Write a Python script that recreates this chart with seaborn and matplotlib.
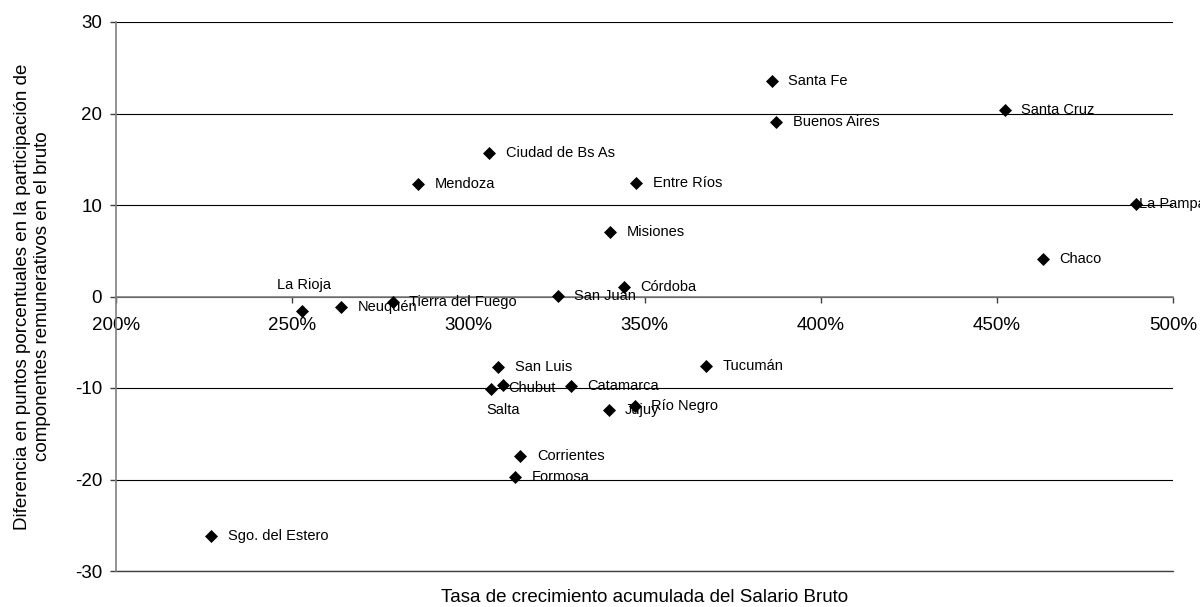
import matplotlib
matplotlib.use("Agg")
import matplotlib.pyplot as plt
import matplotlib.ticker as mticker
import seaborn as sns
import pandas as pd

# ---- data ----
provinces = ["Santa Fe", "Buenos Aires", "Ciudad de Bs As", "Mendoza", "Entre Ríos",
             "Misiones", "Córdoba", "San Juan", "Santa Cruz", "La Pampa", "Chaco",
             "La Rioja", "Neuquén", "Tierra del Fuego", "Sgo. del Estero", "San Luis",
             "Chubut", "Salta", "Catamarca", "Jujuy", "Río Negro", "Tucumán",
             "Corrientes", "Formosa"]
growth_pct = [386.1, 387.3, 306.0, 285.8, 347.7,
              340.3, 344.1, 325.4, 452.2, 489.6, 463.1,
              252.9, 263.8, 278.5, 227.0, 308.5,
              309.8, 306.3, 329.0, 339.8, 347.2, 367.4,
              314.8, 313.3]
diff_pp = [23.5, 19.1, 15.65, 12.25, 12.4,
           7.0, 1.05, 0.05, 20.4, 10.1, 4.05,
           -1.6, -1.1, -0.55, -26.2, -7.75,
           -9.65, -10.15, -9.75, -12.4, -11.95, -7.55,
           -17.4, -19.75]
x_ticks = [200, 250, 300, 350, 400, 450, 500]
y_ticks = [-30, -20, -10, 0, 10, 20, 30]
x_label = "Tasa de crecimiento acumulada del Salario Bruto"
y_label = ("Diferencia en puntos porcentuales en la participación de\n"
           "componentes remunerativos en el bruto")

df = pd.DataFrame({"provincia": provinces, "x": growth_pct, "y": diff_pp})

# ---- style ----
sns.set_style("white")
plt.rcParams["font.family"] = ["Liberation Sans", "DejaVu Sans"]
plt.rcParams["axes.unicode_minus"] = False
for k in ["text.color", "axes.labelcolor", "xtick.labelcolor", "ytick.labelcolor"]:
    plt.rcParams[k] = "black"

fig = plt.figure(figsize=(12, 6.07), dpi=100)
ax = fig.add_axes([116 / 1200, 1 - 571 / 607, (1173 - 116) / 1200, (571 - 22) / 607])

sns.scatterplot(data=df, x="x", y="y", marker="D", color="black", s=44,
                linewidth=0, ax=ax, zorder=3, legend=False)

# label placement (offset points, ha)
special = {
    "La Rioja": ((1, 19), "center"),
    "Chubut": ((4, -2), "left"),
    "Salta": ((9, -15), "center"),
    "La Pampa": ((2, 0), "left"),
}
for name, xv, yv in zip(provinces, growth_pct, diff_pp):
    off, ha = special.get(name, ((12, 0), "left"))
    ax.annotate(name, (xv, yv), xytext=off, textcoords="offset points",
                ha=ha, va="center", fontsize=10.5, color="black", zorder=4,
                annotation_clip=False)

ax.set_xlim(200, 500)
ax.set_ylim(-30, 30)
ax.set_xticks(x_ticks)
ax.set_yticks(y_ticks)
ax.xaxis.set_major_formatter(mticker.FuncFormatter(lambda v, p: f"{v:.0f}%"))

ax.yaxis.grid(True, color="black", linewidth=0.8)
ax.xaxis.grid(False)
ax.set_axisbelow(True)
# bottom gridline at the lower limit (otherwise clipped at the axes edge)
ax.axhline(y_ticks[0], color="#404040", linewidth=1.0, clip_on=False, zorder=0.6)

for s in ["top", "right"]:
    ax.spines[s].set_visible(False)
ax.spines["bottom"].set_position(("data", 0))
ax.spines["bottom"].set_color("#808080")
ax.spines["bottom"].set_linewidth(1.2)
ax.spines["left"].set_color("#808080")
ax.spines["left"].set_linewidth(1.2)

ax.tick_params(axis="x", direction="out", length=4, width=1, color="#404040",
               labelsize=13.5, pad=11, bottom=True)
ax.tick_params(axis="y", direction="out", length=4, width=1, color="#404040",
               labelsize=13.5, pad=6, left=True)

ax.set_xlabel(x_label, fontsize=13.5, va="center")
ax.xaxis.set_label_coords(0.5, -0.049)
ax.set_ylabel(y_label, fontsize=13.5, va="center", ha="center", linespacing=1.25)
ax.yaxis.set_label_coords(-0.079, 0.5)

fig.savefig("out.png", dpi=100)
